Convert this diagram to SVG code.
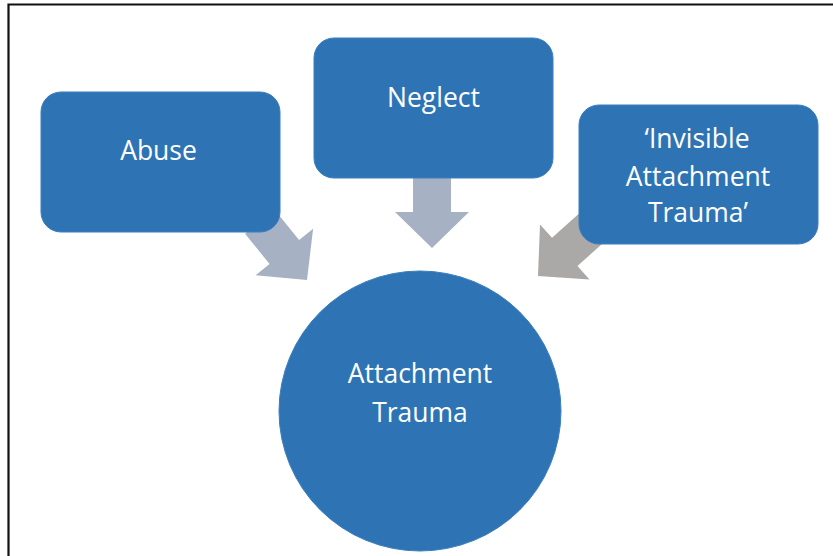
<svg xmlns="http://www.w3.org/2000/svg" width="833" height="556" viewBox="0 0 833 556">
<style>
.node{fill:#2E74B5;stroke:#3A7EBE;stroke-width:1}
.lbl{fill:#FFFFFF;font-family:"Open Sans","Liberation Sans",sans-serif;font-size:26.5px;font-weight:500;text-anchor:middle}
.frame{stroke:#111111;stroke-width:2.2;fill:none}
</style>
<defs>
<path id="arr" d="M0,0 L-37,-36 L-19,-36 L-19,-75 L19,-75 L19,-36 L37,-36 Z"/>
</defs>
<rect width="833" height="556" fill="#FFFFFF"/>
<path class="frame" d="M8.5,556 L8.5,4.5 L833,4.5"/>
<g id="connectors">
<use href="#arr" fill="#A6B1C4" transform="translate(307,280) rotate(-39)"/>
<use href="#arr" fill="#A6B1C4" transform="translate(432,248)"/>
<use href="#arr" fill="#ABA9A7" transform="translate(538,276) rotate(48)"/>
</g>
<g id="abuse">
<rect class="node" x="41" y="92" width="239" height="140" rx="20"/>
<text class="lbl" x="158.5" y="159.5">Abuse</text>
</g>
<g id="neglect">
<rect class="node" x="314" y="38" width="239" height="140" rx="20"/>
<text class="lbl" x="433.5" y="106.5">Neglect</text>
</g>
<g id="invisible">
<rect class="node" x="579" y="105" width="239" height="139" rx="20"/>
<text class="lbl" x="697" y="148">‘Invisible</text>
<text class="lbl" x="698" y="185.5">Attachment</text>
<text class="lbl" x="698" y="221.5">Trauma’</text>
</g>
<g id="attachment-trauma">
<ellipse class="node" cx="420" cy="411" rx="141" ry="140"/>
<text class="lbl" x="420" y="383">Attachment</text>
<text class="lbl" x="420" y="421.5">Trauma</text>
</g>
</svg>
